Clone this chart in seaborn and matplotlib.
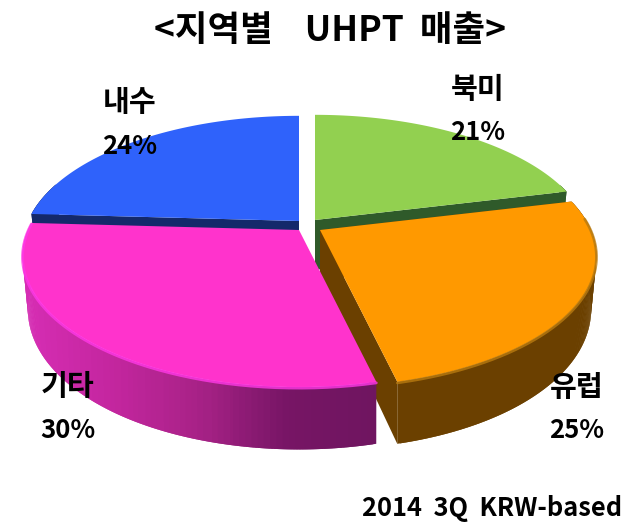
import numpy as np
import seaborn as sns
import matplotlib.pyplot as plt
from matplotlib.colors import to_rgb

# Chart values
regions = ['북미', '유럽', '기타', '내수']
shares = [21.2, 25.1, 29.6, 24.1]
title_text = '<지역별    UHPT  매출>'
note_text = '2014  3Q  KRW-based'

sns.set_theme(style='white')
plt.rcParams['font.family'] = ['Noto Sans CJK KR', 'DejaVu Sans']

# Perspective of the tilted pie, in figure pixels
RADIUS_X = 271
RADIUS_Y = 126
TILT = 0.198
DEPTH = 50
BOTTOM_SHRINK = 0.02


# Map a point on the pie disc to the screen, apex is where the slice starts
def project(theta, r, apex):
    u = r * np.sin(theta)
    v = r * np.cos(theta)
    scale = 1 / (1 + TILT * v)
    return apex[0] + RADIUS_X * u * scale, apex[1] - RADIUS_Y * v * scale, DEPTH * scale


# Draw one slice: side wall strips, cut faces and then the top face
def draw_slice(ax, start, end, apex, top_color, wall_colors, rim_color=None, faces=(0, -1)):
    thetas = np.linspace(start, end, 200)
    x, y, d = project(thetas, 1.0, apex)
    # the lower edge of the wall sits a little inside on the far left and right
    x_low = apex[0] + (x - apex[0]) * (1 - BOTTOM_SHRINK * np.sin(thetas) ** 2)

    # outer wall, shaded along the arc; strips overlap to hide seams
    for i in range(len(thetas) - 2):
        if np.cos(thetas[i]) > 0.3:
            continue
        color = wall_colors[min(int((x[i] - 20) / 360 * len(wall_colors)), len(wall_colors) - 1)]
        ax.fill([x[i], x[i + 2], x_low[i + 2], x_low[i]],
                [y[i], y[i + 2], y[i + 2] + d[i + 2], y[i] + d[i]],
                color=color, lw=0, zorder=1)

    # the radial cut faces that can be seen
    x0, y0, d0 = project(0.0, 0.0, apex)
    for k in faces:
        ax.fill([x0, x[k], x_low[k], x0], [y0, y[k], y[k] + d[k], y0 + d0], color=wall_colors[-1], lw=0, zorder=1)

    ax.fill(np.r_[x0, x], np.r_[y0, y], color=top_color, lw=0, zorder=2)
    if rim_color is not None:
        front = np.cos(thetas) < 0.1
        ax.plot(x[front], y[front] + 1, color=rim_color, lw=2, alpha=0.8, zorder=3)


fig = plt.figure(figsize=(6.24, 5.24), dpi=100)
ax = fig.add_axes([0, 0, 1, 1])
ax.set_xlim(0, 624)
ax.set_ylim(524, 0)
ax.axis('off')

# Slice angles from the shares, clockwise from twelve o'clock
edges = np.r_[0, np.cumsum(shares)] / sum(shares) * 2 * np.pi

styles = {
    '내수': dict(apex=(299, 221), top_color='#2f62fb', wall_colors=[to_rgb('#14296b')]),
    '북미': dict(apex=(315, 220), top_color='#92d050', wall_colors=[to_rgb('#2f5a2a')]),
    '유럽': dict(apex=(320, 230), top_color='#ff9900', wall_colors=[to_rgb('#6b4000')], rim_color='#b87a10'),
    '기타': dict(apex=(299, 230), top_color='#ff33cc',
               wall_colors=sns.blend_palette(['#d62db4', '#c4269f', '#a82287', '#771565', '#6f1560'], 60),
               rim_color='#ff38e6', faces=()),
}

# Back slices first so that the front ones cover their walls
for name in ['내수', '북미', '유럽', '기타']:
    i = regions.index(name)
    draw_slice(ax, edges[i], edges[i + 1], **styles[name])

# Labels
label_pos = {'내수': (130, 102), '북미': (478, 89), '유럽': (577, 387), '기타': (68, 386)}
for name, share in zip(regions, shares):
    lx, ly = label_pos[name]
    ax.text(lx, ly, name, ha='center', va='center', fontsize=21, fontweight='bold', color='black', zorder=5)
    ax.text(lx, ly + 44, f'{share:.0f}%', ha='center', va='center', fontsize=18.5, fontweight='bold', color='black', zorder=5)

ax.text(330, 30, title_text, ha='center', va='center', fontsize=25.5, fontweight='bold', color='black')
ax.text(622, 509, note_text, ha='right', va='center', fontsize=18.3, fontweight='bold', color='black')

fig.savefig('out.png', dpi=100)
